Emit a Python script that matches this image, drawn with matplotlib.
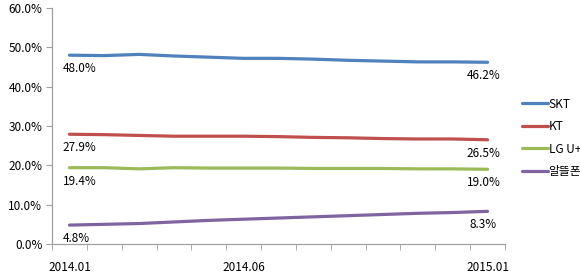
import matplotlib
matplotlib.use("Agg")
import matplotlib.pyplot as plt
import numpy as np

plt.rcParams['font.family'] = ['Noto Sans CJK KR', 'DejaVu Sans']

# months 2014.01 .. 2015.01
months = ["2014.01", "2014.02", "2014.03", "2014.04", "2014.05", "2014.06", "2014.07",
          "2014.08", "2014.09", "2014.10", "2014.11", "2014.12", "2015.01"]
shown_labels = ["2014.01", "2014.06", "2015.01"]

skt = [48.0, 47.9, 48.2, 47.8, 47.5, 47.2, 47.2, 47.0, 46.7, 46.5, 46.3, 46.3, 46.2]
kt = [27.9, 27.8, 27.6, 27.4, 27.4, 27.4, 27.3, 27.1, 27.0, 26.8, 26.7, 26.7, 26.5]
lgu = [19.4, 19.4, 19.1, 19.4, 19.3, 19.3, 19.3, 19.2, 19.2, 19.2, 19.1, 19.1, 19.0]
mvno = [4.8, 5.0, 5.2, 5.6, 6.0, 6.3, 6.6, 6.9, 7.2, 7.5, 7.8, 8.0, 8.3]

names = ["SKT", "KT", "LG U+", "알뜰폰"]
colors = ["#4F81BD", "#C0504D", "#9BBB59", "#8064A2"]

fig = plt.figure(figsize=(5.8, 2.76), dpi=100)
ax = fig.add_axes([0.0897, 0.116, 0.781, 0.855])

x = np.arange(len(months))
for vals, name, c in zip([skt, kt, lgu, mvno], names, colors):
    ax.plot(x, vals, color=c, lw=2.3, label=name, solid_capstyle="round")
    # data labels at first and last point
    ax.annotate("%.1f%%" % vals[0], (x[0], vals[0]), xytext=(-5, -5),
                textcoords="offset points", ha="left", va="top", fontsize=8.5)
    ax.annotate("%.1f%%" % vals[-1], (x[-1], vals[-1]), xytext=(-3, -5),
                textcoords="offset points", ha="center", va="top", fontsize=8.5)

ax.set_xlim(-0.5, len(months) - 0.5)
ax.set_ylim(0, 60)
ax.set_yticks(range(0, 61, 10))
ax.set_yticklabels(["%.1f%%" % v for v in range(0, 61, 10)], fontsize=8.5)
ax.set_xticks([months.index(m) for m in shown_labels])
ax.set_xticklabels(shown_labels, fontsize=8.5)
ax.set_xticks(np.arange(-0.5, len(months)), minor=True)
ax.tick_params(axis="x", which="major", length=0, pad=12)
ax.tick_params(axis="x", which="minor", length=4, color="#A0A0A0", direction="out")
ax.tick_params(axis="y", length=4, color="#A0A0A0", direction="out", pad=3)

for s in ["top", "right"]:
    ax.spines[s].set_visible(False)
for s in ["left", "bottom"]:
    ax.spines[s].set_color("#A0A0A0")
    ax.spines[s].set_linewidth(0.9)

ax.legend(loc="center left", bbox_to_anchor=(1.0, 0.45), frameon=False, fontsize=8.5,
          handlelength=2.2, handletextpad=0.1, labelspacing=0.8, borderaxespad=1.0)

fig.savefig("out.png", dpi=100)
